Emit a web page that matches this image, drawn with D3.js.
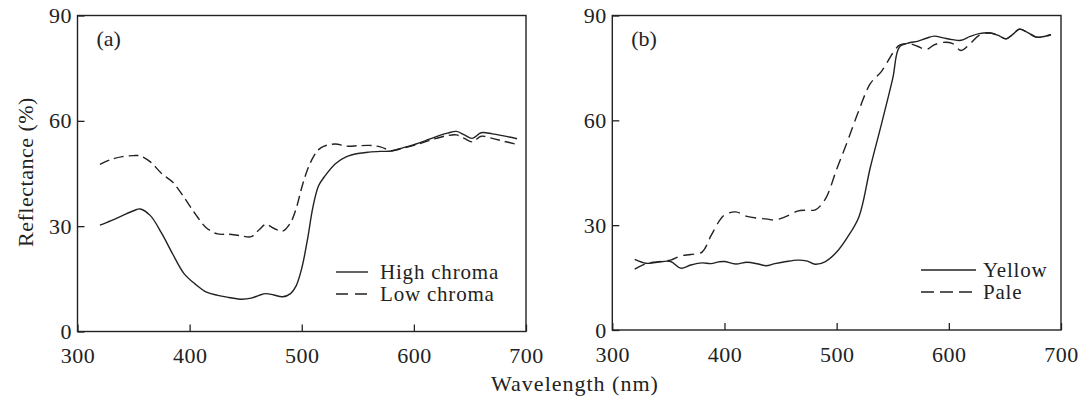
<!DOCTYPE html>
<html>
<head>
<meta charset="utf-8">
<script src="https://cdn.jsdelivr.net/npm/d3@7"></script>
<style>
  body { margin: 0; background: #fff; }
  svg text { font-family: "Liberation Serif", "Times New Roman", serif; fill: #222; }
</style>
</head>
<body>
<svg id="chart" width="1090" height="406"></svg>
<script>
// panel (a)
let waveA = [320, 330, 340, 350, 356, 365, 375, 385, 395, 405, 415, 425, 435, 445, 455, 462, 468, 475, 483, 490,
  495, 500, 505, 510, 515, 520, 530, 540, 550, 560, 570, 580, 590, 600, 610, 620, 630, 638, 645, 652, 660, 670, 680, 692]
let highChroma = [30.3, 31.6, 33.0, 34.4, 34.9, 33.0, 28.0, 22.0, 16.5, 13.5, 11.2, 10.3, 9.7, 9.2, 9.5, 10.3, 10.8, 10.4, 9.9, 10.8,
  13.0, 18.0, 26.0, 35.5, 41.5, 44.0, 47.8, 49.8, 50.7, 51.1, 51.3, 51.4, 52.3, 53.2, 54.3, 55.5, 56.5, 57.0, 56.0, 55.0, 56.6, 56.3, 55.7, 54.9]
let lowChroma = [47.6, 49.0, 49.8, 50.1, 50.0, 48.3, 45.0, 42.5, 38.2, 33.5, 29.5, 27.8, 27.7, 27.3, 27.0, 29.0, 30.5, 29.4, 28.6, 31.0,
  35.0, 41.0, 46.0, 49.5, 51.8, 52.8, 53.4, 52.8, 52.9, 53.0, 52.6, 51.5, 52.2, 53.0, 54.0, 55.0, 55.8, 56.0, 55.0, 54.0, 55.6, 55.0, 54.2, 53.3]

// panel (b)
let waveB = [320, 330, 340, 352, 361, 370, 380, 388, 395, 400, 410, 420, 430, 437, 445, 455, 465, 473, 481, 490,
  500, 510, 520, 530, 540, 550, 556, 565, 572, 580, 587, 595, 603, 611, 619, 627, 637, 644, 651, 657, 663, 670, 678, 685, 691]
let yellow = [20.2, 19.1, 19.4, 19.6, 17.7, 18.6, 19.2, 19.0, 19.5, 19.6, 18.9, 19.4, 18.9, 18.4, 19.0, 19.6, 20.0, 19.8, 18.8, 19.6,
  22.3, 26.7, 32.5, 46.5, 59.0, 72.0, 81.0, 82.2, 82.6, 83.5, 84.1, 83.6, 83.1, 82.9, 84.0, 84.8, 85.0, 84.3, 83.3, 84.6, 86.1, 85.2, 83.8, 84.0, 84.5]
let pale = [17.4, 19.0, 19.5, 20.0, 21.2, 21.6, 22.3, 27.0, 31.0, 32.9, 33.8, 32.5, 32.0, 31.8, 31.5, 32.5, 34.0, 34.3, 34.4, 37.5,
  46.0, 54.3, 63.0, 70.5, 74.0, 79.2, 81.5, 81.9, 81.2, 80.3, 81.6, 82.3, 82.0, 80.0, 81.9, 84.3, 85.0, 84.3, 83.3, 84.6, 86.1, 85.2, 83.8, 84.0, 84.5]

let xTicks = [300, 400, 500, 600, 700]
let yTicks = [0, 30, 60, 90]

let panels = [
  { tag: "(a)", left: 77.5, right: 526, top: 15.5, bottom: 331.5, wave: waveA,
    series: [{ name: "High chroma", values: highChroma, dash: null, sample: "12,7,12" },
             { name: "Low chroma", values: lowChroma, dash: "10,5", sample: "12,7,12" }],
    legendX: 336, legendW: 32, legendY: 272, textX: 380 },
  { tag: "(b)", left: 612.3, right: 1061, top: 15.5, bottom: 330, wave: waveB,
    series: [{ name: "Yellow", values: yellow, dash: null, sample: "13,6,13,6,13" },
             { name: "Pale", values: pale, dash: "11,6", sample: "13,6,13,6,13" }],
    legendX: 921, legendW: 55, legendY: 270, textX: 983 }
]

let svg = d3.select("#chart")
let ink = "#222"

panels.forEach((p) => {
  let x = d3.scaleLinear().domain([300, 700]).range([p.left, p.right])
  let y = d3.scaleLinear().domain([0, 90]).range([p.bottom, p.top])

  let g = svg.append("g")

  // x axis, inward ticks
  let gx = g.append("g")
    .attr("transform", "translate(0," + p.bottom + ")")
    .call(d3.axisBottom(x).tickValues(xTicks).tickSizeInner(-7).tickSizeOuter(0).tickPadding(16))
  gx.select(".domain").remove()
  gx.selectAll("line").attr("stroke", ink).attr("stroke-width", 1.3)
  gx.selectAll("text").attr("font-size", "22px").attr("font-family", null).style("letter-spacing", "0.5px")

  let gy = g.append("g")
    .attr("transform", "translate(" + p.left + ",0)")
    .call(d3.axisLeft(y).tickValues(yTicks).tickSizeInner(-7).tickSizeOuter(0).tickPadding(5.5))
  gy.select(".domain").remove()
  gy.selectAll("line").attr("stroke", ink).attr("stroke-width", 1.3)
  gy.selectAll("text").attr("font-size", "22px").attr("font-family", null).style("letter-spacing", "0.5px")

  // frame
  g.append("rect")
    .attr("x", p.left).attr("y", p.top)
    .attr("width", p.right - p.left).attr("height", p.bottom - p.top)
    .attr("fill", "none").attr("stroke", ink).attr("stroke-width", 1.4)

  let line = d3.line()
    .x((d, i) => x(p.wave[i]))
    .y((d) => y(d))
    .curve(d3.curveCatmullRom)

  p.series.forEach((s) => {
    g.append("path")
      .datum(s.values)
      .attr("d", line)
      .attr("fill", "none")
      .attr("stroke", ink)
      .attr("stroke-width", 1.4)
      .attr("stroke-dasharray", s.dash)
  })

  g.append("text")
    .text(p.tag)
    .attr("x", p.left + 19)
    .attr("y", 46)
    .attr("font-size", "22px")

  // legend
  p.series.forEach((s, i) => {
    let ly = p.legendY + i * 22
    g.append("line")
      .attr("x1", p.legendX).attr("x2", p.legendX + p.legendW)
      .attr("y1", ly).attr("y2", ly)
      .attr("stroke", ink).attr("stroke-width", 1.4)
      .attr("stroke-dasharray", s.dash ? s.sample : null)
    g.append("text")
      .text(s.name)
      .attr("x", p.textX)
      .attr("y", ly + 7)
      .attr("font-size", "21px")
      .style("letter-spacing", "0.8px")
  })
})

svg.append("text")
  .text("Wavelength (nm)")
  .attr("x", 575)
  .attr("y", 391)
  .attr("text-anchor", "middle")
  .attr("font-size", "22px")
  .style("letter-spacing", "1px")

svg.append("text")
  .text("Reflectance (%)")
  .attr("transform", "translate(33,172) rotate(-90)")
  .attr("text-anchor", "middle")
  .attr("font-size", "22px")
  .style("letter-spacing", "0.5px")
</script>
</body>
</html>
